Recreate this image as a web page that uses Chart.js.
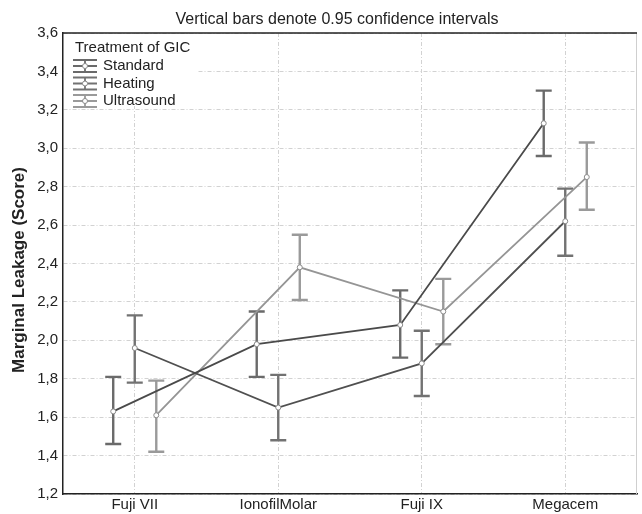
<!DOCTYPE html>
<html>
<head>
<meta charset="utf-8">
<script src="https://cdn.jsdelivr.net/npm/chart.js@4"></script>
<style>
  html, body { margin: 0; padding: 0; background: #fff; }
  canvas { display: block; }
</style>
</head>
<body>
<canvas id="c" width="642" height="514"></canvas>
<script>
const categories = ['Fuji VII', 'IonofilMolar', 'Fuji IX', 'Megacem'];
const seriesNames = ['Standard', 'Heating', 'Ultrasound'];

const standardMean = [1.63, 1.98, 2.08, 3.13];
const standardLow  = [1.46, 1.81, 1.91, 2.96];
const standardHigh = [1.81, 2.15, 2.26, 3.30];

const heatingMean = [1.96, 1.65, 1.88, 2.62];
const heatingLow  = [1.78, 1.48, 1.71, 2.44];
const heatingHigh = [2.13, 1.82, 2.05, 2.79];

const ultrasoundMean = [1.61, 2.38, 2.15, 2.85];
const ultrasoundLow  = [1.42, 2.21, 1.98, 2.68];
const ultrasoundHigh = [1.79, 2.55, 2.32, 3.03];

const titleText = 'Vertical bars denote 0.95 confidence intervals';
const yTitle = 'Marginal Leakage (Score)';
const legendTitle = 'Treatment of GIC';

const FONT = '"Liberation Sans", Arial, Helvetica, sans-serif';
const offsets = [-0.15, 0, 0.15];
const lineColors = ['#4a4a4a', '#505050', '#959595'];
const barColors = ['#6a6a6a', '#727272', '#9a9a9a'];

const means = [standardMean, heatingMean, ultrasoundMean];
const lows = [standardLow, heatingLow, ultrasoundLow];
const highs = [standardHigh, heatingHigh, ultrasoundHigh];

const datasets = seriesNames.map((name, s) => ({
  label: name,
  data: means[s].map((v, i) => ({ x: i + offsets[s], y: v, lo: lows[s][i], hi: highs[s][i] })),
  showLine: true,
  borderColor: lineColors[s],
  borderWidth: 1.8,
  pointRadius: 2.5,
  pointBackgroundColor: '#ffffff',
  pointBorderColor: '#8a8a8a',
  pointBorderWidth: 1,
  tension: 0,
  errColor: barColors[s]
}));

const errorBars = {
  id: 'errorBars',
  beforeDatasetsDraw(chart) {
    const ctx = chart.ctx;
    const xs = chart.scales.x, ys = chart.scales.y;
    ctx.save();
    chart.data.datasets.forEach(ds => {
      ctx.strokeStyle = ds.errColor;
      ctx.lineWidth = 2.4;
      ds.data.forEach(p => {
        const x = xs.getPixelForValue(p.x);
        const y1 = ys.getPixelForValue(p.lo);
        const y2 = ys.getPixelForValue(p.hi);
        ctx.beginPath();
        ctx.moveTo(x, y1); ctx.lineTo(x, y2);
        ctx.moveTo(x - 8, y1); ctx.lineTo(x + 8, y1);
        ctx.moveTo(x - 8, y2); ctx.lineTo(x + 8, y2);
        ctx.stroke();
      });
    });
    ctx.restore();
  }
};

const decor = {
  id: 'decor',
  afterDraw(chart) {
    const ctx = chart.ctx;
    const a = chart.chartArea;
    ctx.save();
    ctx.strokeStyle = '#cfcfcf';
    ctx.lineWidth = 1;
    ctx.beginPath();
    ctx.moveTo(a.right - 0.5, a.top); ctx.lineTo(a.right - 0.5, a.bottom);
    ctx.stroke();
    ctx.strokeStyle = '#222';
    ctx.lineWidth = 1.5;
    ctx.beginPath();
    ctx.moveTo(a.left, a.top); ctx.lineTo(a.right, a.top);
    ctx.stroke();
    // title
    ctx.fillStyle = '#222';
    ctx.font = '16px ' + FONT;
    ctx.textAlign = 'center';
    ctx.textBaseline = 'middle';
    ctx.fillText(titleText, 337, a.top - 13);
    // y title
    ctx.save();
    ctx.translate(19, 270);
    ctx.rotate(-Math.PI / 2);
    ctx.font = 'bold 17px ' + FONT;
    ctx.fillText(yTitle, 0, 0);
    ctx.restore();
    // legend
    ctx.fillStyle = '#fff';
    ctx.fillRect(a.left + 1, a.top + 1, 134, 72);
    ctx.fillStyle = '#222';
    ctx.font = '15px ' + FONT;
    ctx.textAlign = 'left';
    ctx.fillText(legendTitle, a.left + 12, a.top + 15);
    chart.data.datasets.forEach((ds, s) => {
      const cy = a.top + 33 + s * 17.5;
      const x0 = a.left + 10, x1 = a.left + 34, xm = (x0 + x1) / 2;
      ctx.strokeStyle = ds.errColor;
      ctx.lineWidth = 1.8;
      ctx.beginPath();
      ctx.moveTo(x0, cy - 6); ctx.lineTo(x1, cy - 6);
      ctx.moveTo(x0, cy); ctx.lineTo(x1, cy);
      ctx.moveTo(x0, cy + 6); ctx.lineTo(x1, cy + 6);
      ctx.moveTo(xm, cy - 6); ctx.lineTo(xm, cy + 6);
      ctx.stroke();
      ctx.fillStyle = '#fff';
      ctx.strokeStyle = '#8a8a8a';
      ctx.lineWidth = 1;
      ctx.beginPath();
      ctx.arc(xm, cy, 2.5, 0, Math.PI * 2);
      ctx.fill(); ctx.stroke();
      ctx.fillStyle = '#222';
      ctx.fillText(ds.label, a.left + 40, cy);
    });
    ctx.restore();
  }
};

new Chart(document.getElementById('c'), {
  type: 'scatter',
  data: { datasets },
  options: {
    responsive: false,
    animation: false,
    devicePixelRatio: 1,
    layout: { padding: { left: 0, right: 1, top: 33, bottom: 0 } },
    plugins: { legend: { display: false }, tooltip: { enabled: false } },
    scales: {
      x: {
        type: 'linear', min: -0.5, max: 3.5,
        afterBuildTicks(scale) { scale.ticks = categories.map((c, i) => ({ value: i })); },
        afterFit(scale) { scale.height = 20; },
        ticks: {
          callback: v => categories[v] ?? '',
          color: '#222', font: { size: 15, family: FONT }, padding: 2, maxRotation: 0, autoSkip: false
        },
        grid: { color: '#d2d2d2', drawTicks: false, tickLength: 0 },
        border: { color: '#222', width: 1.5, dash: [4, 2, 1, 2] }
      },
      y: {
        min: 1.2, max: 3.6,
        afterFit(scale) { scale.width = 63; },
        ticks: {
          stepSize: 0.2,
          callback: v => (Math.round(v * 10) / 10).toFixed(1).replace('.', ','),
          color: '#222', font: { size: 15, family: FONT }, padding: 5
        },
        grid: { color: '#d2d2d2', drawTicks: false, tickLength: 0 },
        border: { color: '#222', width: 1.5, dash: [4, 2, 1, 2] }
      }
    }
  },
  plugins: [errorBars, decor]
});
</script>
</body>
</html>
